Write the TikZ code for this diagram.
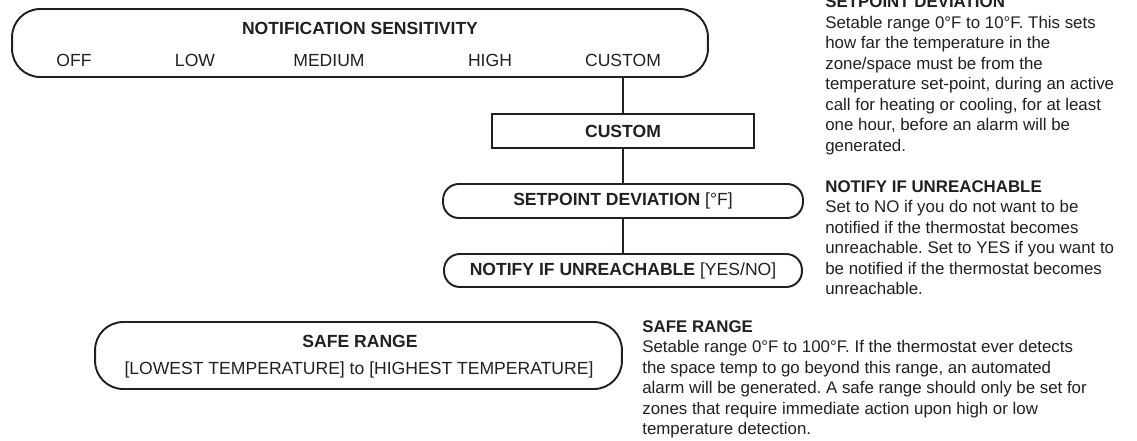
\documentclass[tikz,border=0pt]{standalone}
\usepackage{fontspec}
\setmainfont{Liberation Sans}
\usepackage{tikz}
\usetikzlibrary{positioning}
\definecolor{tinta}{RGB}{35,31,32}
\frenchspacing

\begin{document}
\begin{tikzpicture} %Menu de alarmas
  [
    x=0.02cm, y=-0.02cm,
    % Definimos los estilos de cajas y textos para no repetir codigo
    caja/.style={draw=tinta, line width=1.1pt, inner sep=0pt},
    pillgrande/.style={caja, rectangle, rounded corners=16pt},
    pillchica/.style={caja, rectangle, rounded corners=9pt},
    texto/.style={text=tinta, font=\fontsize{10}{12}\selectfont, inner sep=0pt},
    desc/.style={text=tinta, font=\fontsize{9.6}{11.7}\selectfont, align=left, inner sep=0pt, anchor=north west},
    linea/.style={draw=tinta, line width=1.1pt}
  ]
  \useasboundingbox (0,0) rectangle (1137,440);
  \clip (0,0) rectangle (1137,440);

  \node[pillgrande, minimum width=13.92cm, minimum height=1.36cm] (sens) at (360,43) {};
  \node[texto, anchor=base] (senstit) at (360,34) {\bfseries NOTIFICATION SENSITIVITY};
  \node[texto, anchor=base] (off) at (74,66) {OFF};
  \node[texto, anchor=base] (low) at (195,66) {LOW};
  \node[texto, anchor=base] (medium) at (329,66) {MEDIUM};
  \node[texto, anchor=base] (high) at (490,66) {HIGH};
  \node[texto, anchor=base] (optcustom) at (623,66) {CUSTOM};

  \node[caja, texto, minimum width=5.24cm, minimum height=0.68cm] (custom) at (623,131) {\bfseries CUSTOM};
  \node[pillchica, texto, minimum width=7.2cm, minimum height=0.68cm] (setdev) at (623,201) {\textbf{SETPOINT DEVIATION} [°F]};
  \node[pillchica, texto, minimum width=7.16cm, minimum height=0.66cm] (notify) at (623,270.5) {\textbf{NOTIFY IF UNREACHABLE} [YES/NO]};

  \node[pillgrande, minimum width=10.54cm, minimum height=1.34cm] (safe) at (358.5,355.5) {};
  \node[texto, anchor=base] (safetit) at (360,347) {\bfseries SAFE RANGE};
  \node[texto, anchor=base] (saferng) at (359,374) {[LOWEST TEMPERATURE] to [HIGHEST TEMPERATURE]};

  \draw[linea] (custom.north |- sens.south) -- (custom.north);
  \draw[linea] (custom) -- (setdev);
  \draw[linea] (setdev) -- (notify);

  % textos de ayuda
  \node[desc] (descsetdev) at (825,-4.5) {\textbf{SETPOINT DEVIATION}\\
    Setable range 0°F to 10°F. This sets\\
    how far the temperature in the\\
    zone/space must be from the\\
    temperature set-point, during an active\\
    call for heating or cooling, for at least\\
    one hour, before an alarm will be\\
    generated.};
  \node[desc] (descnotify) at (825,180) {\textbf{NOTIFY IF UNREACHABLE}\\
    Set to NO if you do not want to be\\
    notified if the thermostat becomes\\
    unreachable. Set to YES if you want to\\
    be notified if the thermostat becomes\\
    unreachable.};
  \node[desc] (descsafe) at (642,320) {\textbf{SAFE RANGE}\\
    Setable range 0°F to 100°F. If the thermostat ever detects\\
    the space temp to go beyond this range, an automated\\
    alarm will be generated. A safe range should only be set for\\
    zones that require immediate action upon high or low\\
    temperature detection.};
\end{tikzpicture}
\end{document}
